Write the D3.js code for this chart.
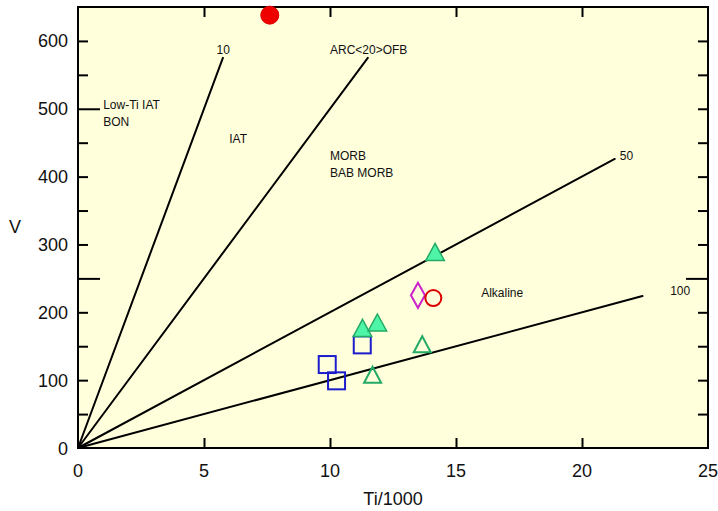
<!DOCTYPE html>
<html>
<head>
<meta charset="utf-8">
<script src="https://cdn.jsdelivr.net/npm/d3@7/dist/d3.min.js"></script>
<style>
  html, body { margin: 0; padding: 0; background: #ffffff; }
  svg { display: block; }
  text { font-family: "Liberation Sans", Arial, Helvetica, sans-serif; fill: #111; }
</style>
</head>
<body>
<svg id="chart" width="718" height="511"></svg>
<script>
// Ti–V discrimination diagram (Ti/1000 vs V)

// Axis ticks
const xTickLabels = [0, 5, 10, 15, 20, 25];
const xInnerTicks = [5, 10, 15, 20];
const yTickLabels = [0, 100, 200, 300, 400, 500, 600];
const yInnerTicks = [50, 100, 150, 200, 250, 300, 350, 400, 450, 500, 550, 600];

// Ti/V ratio lines: ratio and the Ti/1000 value where each line stops
const ratioValues = [10, 20, 50, 100];
const ratioLineEnds = [5.75, 11.5, 21.3, 22.4];

// Field labels (Ti/1000, V)
const fieldNames = ["10", "ARC<20>OFB", "50", "100", "Low-Ti IAT", "BON", "IAT", "MORB", "BAB MORB", "Alkaline"];
const fieldTi = [5.5, 10.0, 21.5, 23.5, 1.0, 1.0, 6.0, 10.0, 10.0, 16.0];
const fieldV = [580, 580, 425, 225, 500, 475, 450, 425, 400, 223];

// Samples
const filledCircleTi = [7.61];
const filledCircleV = [638];
const filledTriangleTi = [14.17, 11.29, 11.88];
const filledTriangleV = [289, 177, 185];
const openTriangleTi = [13.66, 11.69];
const openTriangleV = [153, 108];
const squareTi = [11.28, 9.89, 10.26];
const squareV = [152, 123, 99];
const diamondTi = [13.49];
const diamondV = [225];
const openCircleTi = [14.1];
const openCircleV = [221];

const svg = d3.select("#chart");
const plotLeft = 78, plotRight = 708, plotTop = 7, plotBottom = 448;

const x = d3.scaleLinear().domain([0, 25]).range([plotLeft, plotRight]);
const y = d3.scaleLinear().domain([0, 650]).range([plotBottom, plotTop]);

// plot background
svg.append("rect")
  .attr("x", plotLeft).attr("y", plotTop)
  .attr("width", plotRight - plotLeft).attr("height", plotBottom - plotTop)
  .attr("fill", "#ffffdc");

// inward ticks on all four sides (built from d3 axes, labels drawn separately)
const tickLen = 10, longTick = 22;
const longLeft = [250, 500], longRight = [250];

const gBottom = svg.append("g").attr("transform", `translate(0,${plotBottom})`)
  .call(d3.axisTop(x).tickValues(xInnerTicks).tickSize(tickLen).tickFormat(""));
const gTop = svg.append("g").attr("transform", `translate(0,${plotTop})`)
  .call(d3.axisBottom(x).tickValues(xInnerTicks).tickSize(tickLen).tickFormat(""));
const gLeft = svg.append("g").attr("transform", `translate(${plotLeft},0)`)
  .call(d3.axisRight(y).tickValues(yInnerTicks).tickSize(tickLen).tickFormat(""));
gLeft.selectAll(".tick line").attr("x2", d => longLeft.includes(d) ? longTick : tickLen);
const gRight = svg.append("g").attr("transform", `translate(${plotRight},0)`)
  .call(d3.axisLeft(y).tickValues(yInnerTicks).tickSize(tickLen).tickFormat(""));
gRight.selectAll(".tick line").attr("x2", d => longRight.includes(d) ? -longTick : -tickLen);

[gBottom, gTop, gLeft, gRight].forEach(g => {
  g.select(".domain").remove();
  g.selectAll(".tick line").attr("stroke", "#000").attr("stroke-width", 2);
});

// tick labels
svg.append("g").selectAll("text").data(xTickLabels).join("text")
  .attr("x", d => x(d)).attr("y", 477)
  .attr("text-anchor", "middle").attr("font-size", 18)
  .text(d => d);
svg.append("g").selectAll("text").data(yTickLabels).join("text")
  .attr("x", 68).attr("y", d => y(d) + 6.5)
  .attr("text-anchor", "end").attr("font-size", 18)
  .text(d => d);

// axis titles
svg.append("text").attr("x", 393).attr("y", 505)
  .attr("text-anchor", "middle").attr("font-size", 18).text("Ti/1000");
svg.append("text").attr("x", 15).attr("y", 233)
  .attr("text-anchor", "middle").attr("font-size", 18).text("V");

// ratio lines: V = Ti / ratio, with Ti = (Ti/1000) * 1000
const ratioLines = ratioValues.map((r, i) => ({ r, end: ratioLineEnds[i] }));
svg.append("g").selectAll("line").data(ratioLines).join("line")
  .attr("x1", x(0)).attr("y1", y(0))
  .attr("x2", d => x(d.end)).attr("y2", d => y(d.end * 1000 / d.r))
  .attr("stroke", "#000").attr("stroke-width", 2).attr("stroke-linecap", "round");

// field labels
svg.append("g").selectAll("text").data(fieldNames).join("text")
  .attr("x", (d, i) => x(fieldTi[i])).attr("y", (d, i) => y(fieldV[i]))
  .attr("font-size", 12)
  .text(d => d);

// frame
svg.append("rect")
  .attr("x", plotLeft).attr("y", plotTop)
  .attr("width", plotRight - plotLeft).attr("height", plotBottom - plotTop)
  .attr("fill", "none").attr("stroke", "#000").attr("stroke-width", 2);

// sample symbols
const pts = (tis, vs) => tis.map((t, i) => ({ t, v: vs[i] }));
const gPts = svg.append("g");

const tri = (w, h) => `M0,${-h / 2}L${w / 2},${h / 2}L${-w / 2},${h / 2}Z`;

gPts.selectAll(".sq").data(pts(squareTi, squareV)).join("rect").attr("class", "sq")
  .attr("x", d => x(d.t) - 8.5).attr("y", d => y(d.v) - 8.5)
  .attr("width", 17).attr("height", 17)
  .attr("fill", "none").attr("stroke", "#1c1ccc").attr("stroke-width", 2);

gPts.selectAll(".otri").data(pts(openTriangleTi, openTriangleV)).join("path").attr("class", "otri")
  .attr("transform", d => `translate(${x(d.t)},${y(d.v)})`)
  .attr("d", tri(17, 16))
  .attr("fill", "none").attr("stroke", "#22aa66").attr("stroke-width", 2);

gPts.selectAll(".ftri").data(pts(filledTriangleTi, filledTriangleV)).join("path").attr("class", "ftri")
  .attr("transform", d => `translate(${x(d.t)},${y(d.v)})`)
  .attr("d", tri(18.5, 17))
  .attr("fill", "#4ff5a6").attr("stroke", "#22aa66").attr("stroke-width", 1.5);

gPts.selectAll(".dia").data(pts(diamondTi, diamondV)).join("path").attr("class", "dia")
  .attr("transform", d => `translate(${x(d.t)},${y(d.v)})`)
  .attr("d", "M0,-12.5L7,0L0,12.5L-7,0Z")
  .attr("fill", "none").attr("stroke", "#cc22cc").attr("stroke-width", 2);

gPts.selectAll(".oc").data(pts(openCircleTi, openCircleV)).join("circle").attr("class", "oc")
  .attr("cx", d => x(d.t)).attr("cy", d => y(d.v)).attr("r", 8)
  .attr("fill", "none").attr("stroke", "#dd0000").attr("stroke-width", 2);

gPts.selectAll(".fc").data(pts(filledCircleTi, filledCircleV)).join("circle").attr("class", "fc")
  .attr("cx", d => x(d.t)).attr("cy", d => y(d.v)).attr("r", 9)
  .attr("fill", "#ee0000").attr("stroke", "#dd0000").attr("stroke-width", 1);
</script>
</body>
</html>
